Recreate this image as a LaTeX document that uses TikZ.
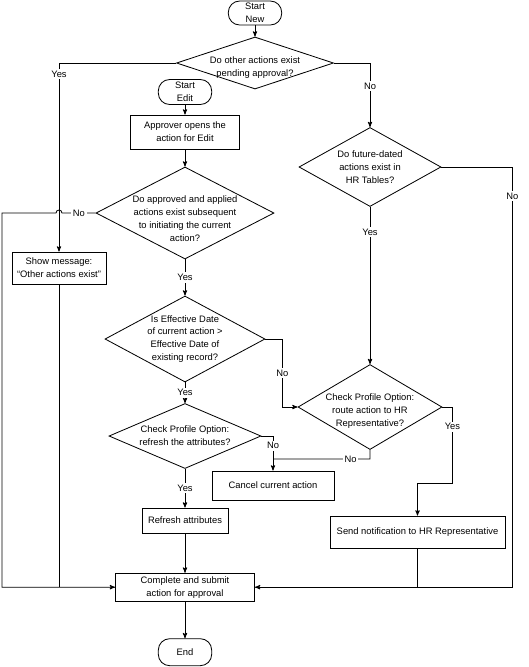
\documentclass[tikz,border=0pt]{standalone}
\usepackage{fontspec}
\setmainfont{Liberation Sans}
\usetikzlibrary{arrows,shapes.geometric,positioning}

\begin{document}
\begin{tikzpicture}[->, >=stealth', x=0.03cm, y=-0.03cm, line width=0.7pt, font=\fontsize{8}{11}\selectfont,
                    terminal/.style={draw, rectangle, rounded corners=0.34cm, align=center, inner sep=0pt, minimum width=1.6cm},
                    process/.style={draw, rectangle, align=center, inner sep=0pt},
                    decision/.style={draw, diamond, inner sep=0pt},
                    every label/.style={align=center},
                    answer/.style={fill=white, inner sep=1.5pt}]

                      \useasboundingbox (0,0) rectangle (529,667);

                      \node[terminal, minimum height=0.72cm] (startnew) at (255,13) {Start\\New};
                      \node[decision, minimum width=4.71cm, minimum height=1.56cm, label={[yshift=-0.13cm]center:Do other actions exist\\pending approval?}] (pending) [below of=startnew, node distance=1.5cm] {};
                      \node[terminal, minimum height=0.75cm] (startedit) at (185,92) {Start\\Edit};
                      \node[process, minimum width=3.27cm, minimum height=1.02cm] (opens) [below of=startedit, node distance=1.2cm] {Approver opens the\\action for Edit};
                      \node[decision, minimum width=5.34cm, minimum height=2.76cm, label={[yshift=-0.17cm]center:Do approved and applied\\actions exist subsequent\\to initiating the current\\action?}] (applied) [below of=opens, node distance=2.43cm] {};
                      \node[decision, minimum width=4.8cm, minimum height=2.58cm, label={center:Is Effective Date\\of current action >\\Effective Date of\\existing record?}] (effdate) [below of=applied, node distance=3.78cm] {};
                      \node[decision, minimum width=4.56cm, minimum height=1.95cm, label={center:Check Profile Option:\\refresh the attributes?}] (refreshq) [below of=effdate, node distance=2.91cm] {};
                      \node[process, minimum width=2.58cm, minimum height=0.75cm] (refresh) [below of=refreshq, node distance=2.535cm] {Refresh attributes};
                      \node[process, minimum width=4.17cm, minimum height=0.84cm] (complete) [below of=refresh, node distance=2cm] {Complete and submit\\action for approval};
                      \node[terminal, minimum height=0.81cm] (end) [below of=complete, node distance=1.95cm] {End};
                      \node[process, minimum width=2.82cm, minimum height=0.96cm] (message) at (59,268) {Show message:\\“Other actions exist”};
                      \node[decision, minimum width=4.26cm, minimum height=2.37cm, label={center:Do future-dated\\actions exist in\\HR Tables?}] (future) at (370,167) {};
                      \node[decision, minimum width=4.32cm, minimum height=2.55cm, label={[yshift=-0.12cm]center:Check Profile Option:\\route action to HR\\Representative?}] (route) [below of=future, node distance=7.2cm] {};
                      \node[process, minimum width=3.66cm, minimum height=0.87cm] (cancel) at (273,485.5) {Cancel current action};
                      \node[process, minimum width=5.25cm, minimum height=0.96cm] (notify) at (417.5,532) {Send notification to HR Representative};

                      \path (startnew) edge (pending)
                            (startedit) edge (opens)
                            (opens) edge (applied)
                            (applied) edge node[answer] {Yes} (effdate)
                            (effdate) edge node[answer] {Yes} (refreshq)
                            (refreshq) edge node[answer] {Yes} (refresh)
                            (refresh) edge (complete)
                            (complete) edge (end)
                            (future) edge node[answer, pos=0.16] {Yes} (route);

                      \draw (pending.west) -| node[answer, pos=0.53] {Yes} (message.north);
                      \draw (pending.east) -| node[answer, pos=0.68] {No} (future.north);
                      \draw (applied.west) -- node[answer] {No} (62,213) arc[start angle=0, end angle=180, radius=0.09cm] -- (2,213) |- (complete.west);
                      \draw[-] (message.south) -- (message.south |- complete.west);
                      \draw (effdate.east) -- ++(17,0) |- node[answer, pos=0.25] {No} (route.west);
                      \draw (refreshq.east) -| node[answer, pos=0.64] {No} (cancel.north);
                      \draw[-] (route.south) -- ++(0,9) -- node[answer, pos=0.2] {No} (cancel.north |- 0,459);
                      \draw (route.east) -- ++(10,0) -- node[answer, pos=0.26] {Yes} ++(0,76) -| (notify.north);
                      \draw (future.east) -- ++(71,0) |- node[answer, pos=0.035] {No} (complete.east);
                      \draw[-] (notify.south) -- (notify.south |- complete.east);
                \end{tikzpicture}
\end{document}
